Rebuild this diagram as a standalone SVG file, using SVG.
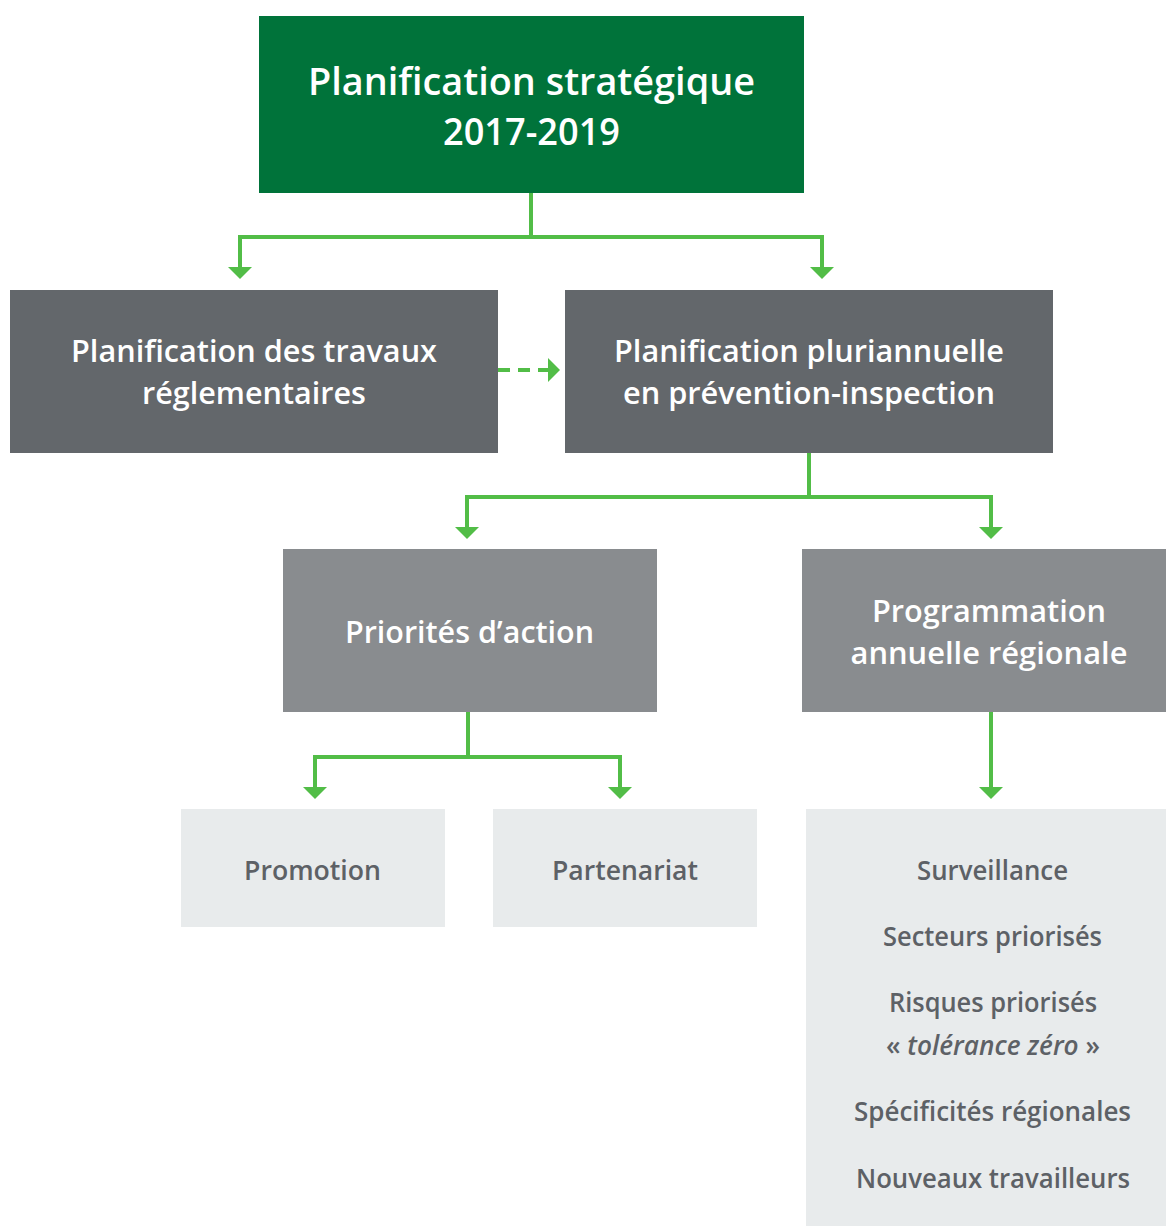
<svg xmlns="http://www.w3.org/2000/svg" width="1166" height="1226" viewBox="0 0 1166 1226">
  <style>
    text { font-family: "Open Sans", "Noto Sans", "Liberation Sans", sans-serif; font-weight: 600; text-anchor: middle; }
    .t1 { font-size: 38px; fill: #ffffff; }
    .t2 { font-size: 31px; fill: #ffffff; }
    .t3 { font-size: 27.5px; fill: #5d6166; }
    .green { fill: #00733a; }
    .dark { fill: #63676b; }
    .mid { fill: #898c8f; }
    .light { fill: #e8ebec; }
    .conn { fill: none; stroke: #52bd47; stroke-width: 4; }
    .dash { stroke-dasharray: 12 8; }
  </style>
  <defs>
    <marker id="arrow" markerUnits="userSpaceOnUse" markerWidth="13" markerHeight="24" refX="0" refY="12" orient="auto-start-reverse">
      <path d="M0,0 L12,12 L0,24 Z" fill="#52bd47"/>
    </marker>
  </defs>

  <rect width="1166" height="1226" fill="#ffffff"/>

  <g id="connectors">
    <path class="conn" d="M531,193 V237"/>
    <path class="conn" d="M240,267 V237 H822 V267" marker-start="url(#arrow)" marker-end="url(#arrow)"/>
    <path class="conn dash" d="M498,370 H548" marker-end="url(#arrow)"/>
    <path class="conn" d="M809,453 V497"/>
    <path class="conn" d="M467,527 V497 H991 V527" marker-start="url(#arrow)" marker-end="url(#arrow)"/>
    <path class="conn" d="M468,712 V757"/>
    <path class="conn" d="M315,787 V757 H620 V787" marker-start="url(#arrow)" marker-end="url(#arrow)"/>
    <path class="conn" d="M991,712 V787" marker-end="url(#arrow)"/>
  </g>

  <g id="node-strategique">
    <rect class="green" x="259" y="16" width="545" height="177"/>
    <text class="t1" x="531.5" y="95" textLength="447" lengthAdjust="spacingAndGlyphs">Planification stratégique</text>
    <text class="t1" x="531.5" y="145" textLength="177" lengthAdjust="spacingAndGlyphs">2017-2019</text>
  </g>

  <g id="node-travaux">
    <rect class="dark" x="10" y="290" width="488" height="163"/>
    <text class="t2" x="254" y="362" textLength="366" lengthAdjust="spacingAndGlyphs">Planification des travaux</text>
    <text class="t2" x="254" y="404" textLength="224" lengthAdjust="spacingAndGlyphs">réglementaires</text>
  </g>

  <g id="node-pluriannuelle">
    <rect class="dark" x="565" y="290" width="488" height="163"/>
    <text class="t2" x="809" y="362" textLength="390" lengthAdjust="spacingAndGlyphs">Planification pluriannuelle</text>
    <text class="t2" x="809" y="404" textLength="372" lengthAdjust="spacingAndGlyphs">en prévention-inspection</text>
  </g>

  <g id="node-priorites">
    <rect class="mid" x="283" y="549" width="374" height="163"/>
    <text class="t2" x="469.5" y="643" textLength="249" lengthAdjust="spacingAndGlyphs">Priorités d’action</text>
  </g>

  <g id="node-programmation">
    <rect class="mid" x="802" y="549" width="364" height="163"/>
    <text class="t2" x="989" y="622" textLength="234" lengthAdjust="spacingAndGlyphs">Programmation</text>
    <text class="t2" x="989" y="664" textLength="277" lengthAdjust="spacingAndGlyphs">annuelle régionale</text>
  </g>

  <g id="node-promotion">
    <rect class="light" x="181" y="809" width="264" height="118"/>
    <text class="t3" x="312.5" y="880" textLength="137" lengthAdjust="spacingAndGlyphs">Promotion</text>
  </g>

  <g id="node-partenariat">
    <rect class="light" x="493" y="809" width="264" height="118"/>
    <text class="t3" x="625" y="880" textLength="146" lengthAdjust="spacingAndGlyphs">Partenariat</text>
  </g>

  <g id="node-liste">
    <rect class="light" x="806" y="809" width="360" height="417"/>
    <text class="t3" x="992.5" y="880" textLength="151" lengthAdjust="spacingAndGlyphs">Surveillance</text>
    <text class="t3" x="992.5" y="946" textLength="219" lengthAdjust="spacingAndGlyphs">Secteurs priorisés</text>
    <text class="t3" x="993" y="1012" textLength="208" lengthAdjust="spacingAndGlyphs">Risques priorisés</text>
    <text class="t3" x="993" y="1055" textLength="214" lengthAdjust="spacingAndGlyphs">« <tspan font-style="italic">tolérance zéro</tspan> »</text>
    <text class="t3" x="992.5" y="1121" textLength="277" lengthAdjust="spacingAndGlyphs">Spécificités régionales</text>
    <text class="t3" x="993" y="1188" textLength="274" lengthAdjust="spacingAndGlyphs">Nouveaux travailleurs</text>
  </g>
</svg>
